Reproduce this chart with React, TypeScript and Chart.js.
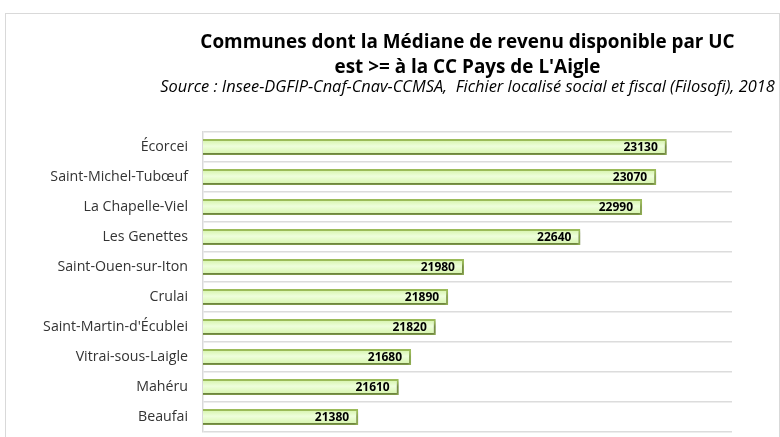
import React, { useEffect, useRef } from "react";
import { Chart, registerables } from "chart.js";

Chart.register(...registerables);

const communes = [
  "Écorcei",
  "Saint-Michel-Tubœuf",
  "La Chapelle-Viel",
  "Les Genettes",
  "Saint-Ouen-sur-Iton",
  "Crulai",
  "Saint-Martin-d'Écublei",
  "Vitrai-sous-Laigle",
  "Mahéru",
  "Beaufai",
];
const medianes = [23130, 23070, 22990, 22640, 21980, 21890, 21820, 21680, 21610, 21380];
const titleLines = [
  "Communes dont la Médiane de revenu disponible par UC",
  "est >= à la CC Pays de L'Aigle",
];
const sourceLine =
  "Source : Insee-DGFIP-Cnaf-Cnav-CCMSA,  Fichier localisé social et fiscal (Filosofi), 2018";
const axisMin = 20500;
const axisMax = 23500;

const FONT = "'Open Sans', 'Noto Sans', sans-serif";

const decorPlugin = {
  id: "decor",
  beforeDraw(chart: any) {
    const ctx = chart.ctx;
    ctx.save();
    ctx.fillStyle = "#ffffff";
    ctx.fillRect(0, 0, chart.width, chart.height);
    ctx.strokeStyle = "#d9d9d9";
    ctx.lineWidth = 1;
    ctx.strokeRect(5.5, 13.5, chart.width - 6, chart.height);
    ctx.restore();
  },
  beforeDatasetsDraw(chart: any) {
    const ctx = chart.ctx;
    ctx.save();
    ctx.shadowColor = "rgba(0,0,0,0.4)";
    ctx.shadowBlur = 3;
    ctx.shadowOffsetX = 1;
    ctx.shadowOffsetY = 2.5;
  },
  afterDatasetsDraw(chart: any) {
    const ctx = chart.ctx;
    ctx.restore();
    const meta = chart.getDatasetMeta(0);
    ctx.save();
    ctx.fillStyle = "#000000";
    ctx.font = `bold 12px ${FONT}`;
    ctx.textAlign = "right";
    ctx.textBaseline = "middle";
    meta.data.forEach((bar: any, i: number) => {
      ctx.fillText(String(medianes[i]), bar.x - 9, bar.y + 0.5);
    });
    ctx.restore();
  },
  afterDraw(chart: any) {
    const ctx = chart.ctx;
    const area = chart.chartArea;
    const cx = (area.left + area.right) / 2;
    ctx.save();
    ctx.fillStyle = "#000000";
    ctx.textAlign = "center";
    ctx.textBaseline = "alphabetic";
    ctx.font = `bold 18.9px ${FONT}`;
    ctx.fillText(titleLines[0], cx, 48);
    ctx.fillText(titleLines[1], cx, 73);
    ctx.font = `italic 16.4px ${FONT}`;
    ctx.fillText(sourceLine, cx, 92);
    ctx.restore();
  },
};

export default function App() {
  const ref = useRef<HTMLCanvasElement | null>(null);
  useEffect(() => {
    document.body.style.margin = "0";
    const canvas = ref.current!;
    const ctx2 = canvas.getContext("2d")!;
    const chart = new Chart(canvas, {
      type: "bar",
      data: {
        labels: communes,
        datasets: [
          {
            data: medianes,
            backgroundColor: (c: any) => {
              const ys = c.chart.scales && c.chart.scales.y;
              if (!ys || c.dataIndex === undefined) return "#e6fbcc";
              const cy = ys.getPixelForValue(c.dataIndex);
              if (!isFinite(cy)) return "#e6fbcc";
              const h = 8;
              const g = ctx2.createLinearGradient(0, cy - h, 0, cy + h);
              g.addColorStop(0, "#d2f2a4");
              g.addColorStop(0.45, "#eefedc");
              g.addColorStop(1, "#d3f3a6");
              return g;
            },
            borderColor: "#9bbb59",
            borderWidth: 2,
            borderSkipped: false,
            categoryPercentage: 1,
            barPercentage: 0.53,
          },
        ],
      },
      options: {
        indexAxis: "y",
        responsive: false,
        maintainAspectRatio: false,
        animation: false,
        events: [],
        layout: { padding: { left: 0, right: 48, top: 132, bottom: 5 } },
        plugins: {
          legend: { display: false },
          title: { display: false },
          tooltip: { enabled: false },
        },
        scales: {
          x: {
            display: false,
            min: axisMin,
            max: axisMax,
          },
          y: {
            afterFit(scale: any) {
              scale.width = 203;
              scale.paddingTop = 0;
              scale.paddingBottom = 0;
            },
            grid: {
              offset: true,
              color: "#dcdcdc",
              lineWidth: 1.5,
              drawTicks: false,
            },
            border: { display: true, color: "#d9d9d9", width: 1.5 },
            ticks: {
              color: "#333333",
              padding: 15,
              font: { family: FONT, size: 14.2 },
            },
          },
        },
      },
      plugins: [decorPlugin],
    });
    return () => chart.destroy();
  }, []);
  return (
    <div style={{ width: 780, height: 437 }}>
      <canvas ref={ref} width={780} height={437} />
    </div>
  );
}
